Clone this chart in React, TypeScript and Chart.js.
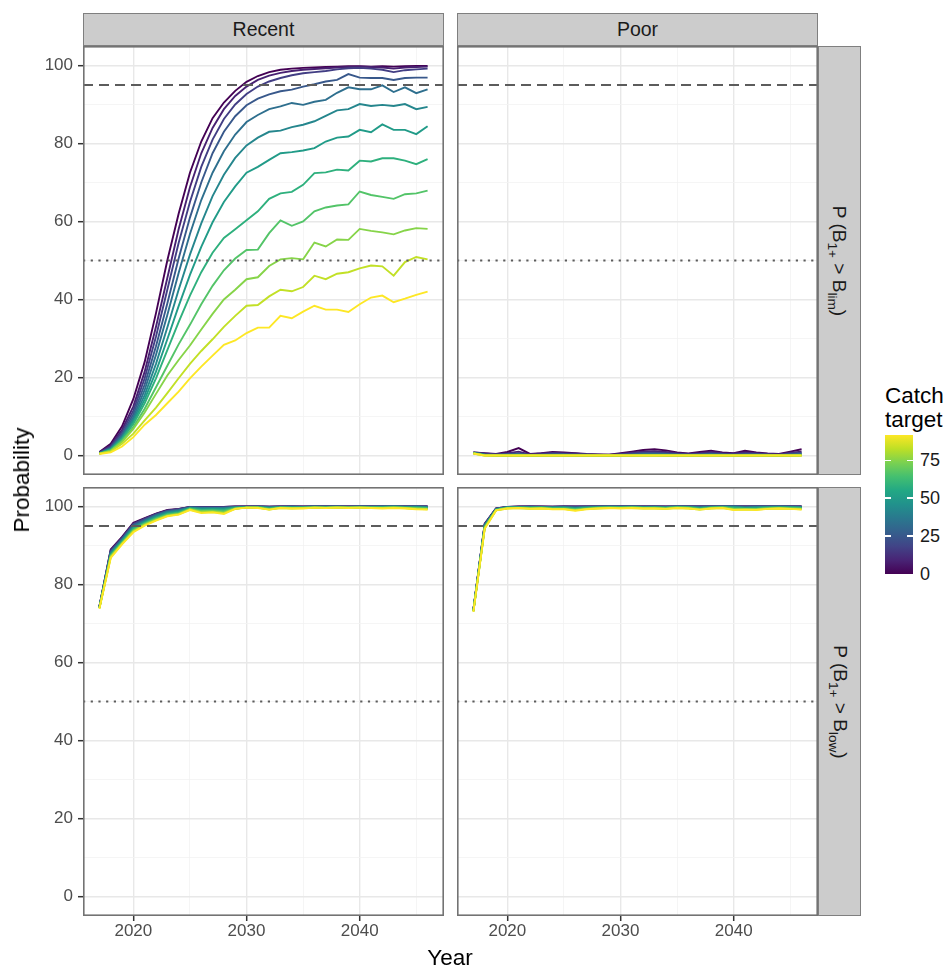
import React, { useEffect, useRef } from "react";
import { Chart, registerables } from "chart.js";

Chart.register(...registerables);

const FONT = "'Liberation Sans', Arial, Helvetica, sans-serif";

// ---------------- data ----------------
const years = [2017, 2018, 2019, 2020, 2021, 2022, 2023, 2024, 2025, 2026, 2027, 2028, 2029, 2030, 2031, 2032, 2033, 2034, 2035, 2036, 2037, 2038, 2039, 2040, 2041, 2042, 2043, 2044, 2045, 2046];
const catchTargets = [0, 8.3, 16.7, 25, 33.3, 41.7, 50, 58.3, 66.7, 75, 83.3, 91.7];
const legendMax = 91.7;
const legendTicks = [0, 25, 50, 75];
const yMajor = [0, 20, 40, 60, 80, 100];
const yMinor = [10, 30, 50, 70, 90];
const xMajor = [2020, 2030, 2040];
const xMinor = [2025, 2035, 2045];
const thresholds = [95, 50];
const columns = ["Recent", "Poor"];

// Top-left: Recent, P(B1+ > Blim)
const recentBlim = [
  [0.9, 3.0, 7.5, 14.5, 24.0, 36.5, 50.0, 62.0, 72.5, 80.5, 86.5, 90.5, 93.5, 95.8, 97.3, 98.3, 98.9, 99.2, 99.4, 99.5, 99.6, 99.7, 99.8, 99.8, 99.7, 99.8, 99.7, 99.8, 99.9, 99.9],
  [0.8, 2.6, 6.6, 12.6, 21.5, 33.0, 45.5, 58.0, 68.8, 77.5, 84.0, 88.8, 92.2, 94.6, 96.3, 97.4, 98.1, 98.6, 98.9, 99.1, 99.3, 99.5, 99.6, 99.7, 99.6, 99.5, 99.2, 99.5, 99.6, 99.7],
  [0.7, 2.3, 6.0, 11.5, 19.8, 30.5, 42.5, 54.5, 65.0, 74.0, 81.0, 86.3, 90.0, 92.7, 94.6, 95.9, 96.8, 97.5, 98.0, 98.3, 98.6, 99.0, 99.3, 99.4, 99.2, 98.9, 98.3, 98.8, 99.0, 99.2],
  [0.6, 2.0, 5.4, 10.6, 18.2, 28.0, 39.0, 50.5, 61.0, 70.0, 77.5, 83.0, 87.0, 89.8, 91.5, 92.6, 93.4, 93.8, 94.6, 95.2, 95.9, 96.3, 97.8, 96.9, 96.8, 96.8, 96.3, 96.8, 96.9, 96.9],
  [0.6, 1.8, 5.0, 9.8, 16.8, 25.8, 36.0, 46.8, 56.8, 65.5, 72.5, 78.0, 82.3, 85.5, 87.3, 88.8, 89.5, 90.4, 89.9, 90.7, 91.2, 93.0, 94.4, 93.9, 93.9, 94.9, 93.2, 94.4, 92.9, 93.9],
  [0.6, 1.7, 4.7, 9.2, 15.5, 23.5, 32.8, 42.5, 51.5, 59.5, 66.5, 72.0, 76.3, 79.5, 81.5, 83.0, 83.3, 84.2, 84.8, 85.7, 87.1, 88.5, 88.8, 90.1, 89.6, 89.9, 89.6, 90.1, 88.8, 89.4],
  [0.5, 1.6, 4.4, 8.6, 14.4, 21.5, 29.8, 38.3, 46.3, 53.5, 59.8, 65.0, 69.0, 72.5, 74.0, 75.8, 77.5, 77.8, 78.2, 78.8, 80.5, 81.5, 81.8, 83.5, 82.9, 84.9, 83.5, 83.5, 82.4, 84.4],
  [0.5, 1.5, 4.2, 8.1, 13.4, 19.8, 27.0, 34.2, 41.0, 47.0, 52.0, 55.8, 58.0, 60.3, 62.6, 65.8, 67.2, 67.6, 69.4, 72.4, 72.6, 73.3, 73.1, 75.6, 75.4, 76.2, 76.2, 75.6, 74.7, 76.0],
  [0.5, 1.3, 3.8, 7.3, 12.0, 17.5, 23.0, 28.5, 33.5, 38.8, 43.5, 47.5, 50.5, 52.7, 52.8, 57.0, 60.3, 58.9, 60.0, 62.6, 63.6, 64.1, 64.4, 67.7, 66.8, 66.3, 65.8, 67.0, 67.2, 67.9],
  [0.5, 1.2, 3.5, 6.8, 11.0, 15.8, 20.5, 24.5, 28.2, 32.3, 36.3, 40.0, 42.5, 45.2, 45.7, 48.6, 50.3, 50.6, 50.3, 54.6, 53.6, 55.4, 55.3, 58.1, 57.6, 57.2, 56.7, 57.7, 58.3, 58.1],
  [0.5, 1.0, 3.0, 5.6, 9.0, 12.3, 16.0, 19.8, 23.5, 26.8, 29.8, 33.0, 35.8, 38.4, 38.6, 40.8, 42.5, 42.1, 43.2, 46.1, 45.2, 46.6, 47.0, 48.0, 48.7, 48.5, 46.1, 49.6, 50.9, 50.3],
  [0.4, 0.8, 2.3, 4.7, 7.9, 10.4, 13.4, 16.4, 19.8, 22.8, 25.6, 28.4, 29.5, 31.4, 32.8, 32.8, 35.8, 35.2, 36.9, 38.4, 37.4, 37.4, 36.8, 38.8, 40.5, 41.0, 39.3, 40.2, 41.2, 42.0],
];

// Top-right: Poor, P(B1+ > Blim)
const poorBlim = [
  [0.8, 0.6, 0.4, 0.9, 1.9, 0.4, 0.6, 0.9, 0.8, 0.6, 0.4, 0.3, 0.2, 0.6, 1.0, 1.4, 1.6, 1.3, 0.8, 0.5, 0.9, 1.2, 0.8, 0.6, 1.2, 0.8, 0.5, 0.4, 1.0, 1.6],
  [0.8, 0.5, 0.3, 0.6, 1.0, 0.3, 0.5, 0.7, 0.6, 0.5, 0.3, 0.2, 0.2, 0.4, 0.7, 1.0, 1.1, 0.9, 0.6, 0.4, 0.6, 0.9, 0.6, 0.5, 0.8, 0.6, 0.4, 0.3, 0.7, 1.0],
  [0.7, 0.4, 0.2, 0.4, 0.6, 0.2, 0.3, 0.5, 0.4, 0.3, 0.3, 0.2, 0.1, 0.3, 0.5, 0.7, 0.8, 0.6, 0.4, 0.3, 0.4, 0.6, 0.4, 0.3, 0.5, 0.4, 0.3, 0.2, 0.5, 0.7],
  [0.7, 0.3, 0.2, 0.3, 0.4, 0.1, 0.2, 0.3, 0.3, 0.2, 0.2, 0.1, 0.1, 0.2, 0.3, 0.5, 0.5, 0.4, 0.3, 0.2, 0.3, 0.4, 0.3, 0.2, 0.3, 0.3, 0.2, 0.1, 0.3, 0.5],
  [0.7, 0.2, 0.1, 0.2, 0.3, 0.1, 0.1, 0.2, 0.2, 0.1, 0.1, 0.1, 0.0, 0.1, 0.2, 0.3, 0.3, 0.3, 0.2, 0.1, 0.2, 0.3, 0.2, 0.1, 0.2, 0.2, 0.1, 0.1, 0.2, 0.3],
  [0.6, 0.2, 0.1, 0.1, 0.2, 0.0, 0.1, 0.1, 0.1, 0.1, 0.1, 0.0, 0.0, 0.1, 0.1, 0.2, 0.2, 0.2, 0.1, 0.1, 0.1, 0.2, 0.1, 0.1, 0.1, 0.1, 0.1, 0.0, 0.1, 0.2],
  [0.6, 0.1, 0.1, 0.0, 0.1, 0.0, 0.0, 0.1, 0.1, 0.0, 0.0, 0.0, 0.0, 0.0, 0.1, 0.1, 0.1, 0.1, 0.1, 0.0, 0.1, 0.1, 0.1, 0.0, 0.1, 0.1, 0.0, 0.0, 0.1, 0.1],
  [0.6, 0.1, 0.0, 0.0, 0.1, 0.0, 0.0, 0.0, 0.0, 0.0, 0.0, 0.0, 0.0, 0.0, 0.0, 0.1, 0.1, 0.0, 0.0, 0.0, 0.0, 0.1, 0.0, 0.0, 0.0, 0.0, 0.0, 0.0, 0.0, 0.1],
  [0.6, 0.1, 0.0, 0.0, 0.0, 0.0, 0.0, 0.0, 0.0, 0.0, 0.0, 0.0, 0.0, 0.0, 0.0, 0.0, 0.0, 0.0, 0.0, 0.0, 0.0, 0.0, 0.0, 0.0, 0.0, 0.0, 0.0, 0.0, 0.0, 0.0],
  [0.5, 0.0, 0.0, 0.0, 0.0, 0.0, 0.0, 0.0, 0.0, 0.0, 0.0, 0.0, 0.0, 0.0, 0.0, 0.0, 0.0, 0.0, 0.0, 0.0, 0.0, 0.0, 0.0, 0.0, 0.0, 0.0, 0.0, 0.0, 0.0, 0.0],
  [0.5, 0.0, 0.0, 0.0, 0.0, 0.0, 0.0, 0.0, 0.0, 0.0, 0.0, 0.0, 0.0, 0.0, 0.0, 0.0, 0.0, 0.0, 0.0, 0.0, 0.0, 0.0, 0.0, 0.0, 0.0, 0.0, 0.0, 0.0, 0.0, 0.0],
  [0.5, 0.0, 0.0, 0.0, 0.0, 0.0, 0.0, 0.0, 0.0, 0.0, 0.0, 0.0, 0.0, 0.0, 0.0, 0.0, 0.0, 0.0, 0.0, 0.0, 0.0, 0.0, 0.0, 0.0, 0.0, 0.0, 0.0, 0.0, 0.0, 0.0],
];

// Bottom-left: Recent, P(B1+ > Blow)
const recentBlow = [
  [74.4, 89.0, 92.2, 95.8, 97.0, 98.2, 99.1, 99.4, 99.9, 99.9, 99.9, 99.9, 100, 100, 100, 100, 100, 100, 100, 100, 100, 100, 100, 100, 100, 100, 100, 100, 100, 100],
  [74.3, 88.8, 92.0, 95.6, 96.9, 98.1, 99.0, 99.3, 99.9, 99.9, 99.8, 99.9, 100, 100, 100, 99.9, 100, 100, 100, 100, 100, 100, 100, 100, 100, 100, 100, 100, 100, 100],
  [74.3, 88.6, 91.9, 95.5, 96.8, 98.0, 98.9, 99.3, 99.8, 99.8, 99.8, 99.8, 99.9, 100, 100, 99.9, 100, 100, 99.9, 100, 100, 100, 100, 100, 100, 100, 100, 100, 100, 100],
  [74.2, 88.4, 91.7, 95.3, 96.6, 97.9, 98.8, 99.2, 99.8, 99.7, 99.7, 99.7, 99.9, 99.9, 100, 99.9, 99.9, 100, 99.9, 100, 100, 100, 99.9, 100, 100, 100, 100, 100, 100, 99.9],
  [74.2, 88.2, 91.5, 95.0, 96.4, 97.7, 98.7, 99.0, 99.7, 99.6, 99.6, 99.6, 99.9, 99.9, 99.9, 99.8, 99.9, 99.9, 99.9, 100, 99.9, 100, 99.9, 100, 99.9, 100, 100, 99.9, 100, 99.9],
  [74.1, 88.0, 91.3, 94.8, 96.2, 97.5, 98.5, 98.9, 99.7, 99.5, 99.5, 99.5, 99.8, 99.9, 99.9, 99.7, 99.9, 99.9, 99.8, 99.9, 99.9, 99.9, 99.9, 99.9, 99.9, 99.9, 100, 99.9, 99.9, 99.8],
  [74.1, 87.8, 91.1, 94.5, 96.0, 97.3, 98.3, 98.7, 99.6, 99.3, 99.4, 99.3, 99.7, 99.8, 99.9, 99.6, 99.8, 99.8, 99.8, 99.9, 99.8, 99.9, 99.8, 99.9, 99.9, 99.9, 99.9, 99.8, 99.8, 99.7],
  [74.0, 87.6, 90.9, 94.3, 95.8, 97.1, 98.1, 98.5, 99.5, 99.1, 99.2, 99.1, 99.6, 99.8, 99.8, 99.5, 99.8, 99.7, 99.7, 99.8, 99.8, 99.8, 99.8, 99.8, 99.8, 99.8, 99.8, 99.7, 99.7, 99.6],
  [74.0, 87.4, 90.7, 94.0, 95.6, 96.9, 97.9, 98.3, 99.4, 98.9, 99.0, 98.8, 99.5, 99.7, 99.8, 99.4, 99.7, 99.6, 99.7, 99.8, 99.7, 99.8, 99.7, 99.8, 99.7, 99.7, 99.8, 99.7, 99.6, 99.5],
  [73.9, 87.2, 90.6, 93.8, 95.4, 96.7, 97.7, 98.1, 99.3, 98.7, 98.8, 98.5, 99.5, 99.7, 99.7, 99.3, 99.7, 99.6, 99.6, 99.7, 99.7, 99.8, 99.7, 99.7, 99.7, 99.6, 99.7, 99.6, 99.5, 99.4],
  [73.9, 87.0, 90.4, 93.6, 95.2, 96.5, 97.6, 98.0, 99.2, 98.5, 98.6, 98.3, 99.4, 99.7, 99.7, 99.2, 99.6, 99.5, 99.6, 99.7, 99.6, 99.7, 99.7, 99.7, 99.6, 99.6, 99.7, 99.6, 99.4, 99.3],
  [73.8, 86.8, 90.3, 93.4, 95.1, 96.4, 97.5, 97.9, 99.1, 98.3, 98.5, 98.1, 99.4, 99.7, 99.6, 99.2, 99.6, 99.5, 99.5, 99.7, 99.6, 99.7, 99.6, 99.7, 99.6, 99.5, 99.6, 99.5, 99.3, 99.2],
];

// Bottom-right: Poor, P(B1+ > Blow)
const poorBlow = [
  [73.6, 95.6, 99.5, 99.9, 100, 100, 100, 100, 100, 100, 100, 100, 100, 100, 100, 100, 100, 100, 100, 100, 100, 100, 100, 100, 100, 100, 100, 100, 100, 100],
  [73.5, 95.5, 99.5, 99.9, 100, 100, 100, 99.9, 100, 100, 100, 100, 100, 100, 100, 100, 100, 100, 100, 100, 100, 100, 100, 100, 100, 100, 100, 100, 100, 100],
  [73.5, 95.4, 99.4, 99.9, 99.9, 100, 99.9, 99.9, 100, 99.9, 100, 100, 100, 100, 100, 100, 100, 99.9, 100, 100, 100, 100, 100, 100, 100, 100, 100, 100, 100, 100],
  [73.4, 95.3, 99.4, 99.8, 99.9, 99.9, 99.9, 99.9, 99.9, 99.8, 99.9, 100, 100, 100, 100, 99.9, 100, 99.9, 100, 100, 99.9, 100, 100, 100, 99.9, 100, 100, 100, 100, 99.9],
  [73.4, 95.2, 99.3, 99.8, 99.9, 99.8, 99.9, 99.8, 99.9, 99.7, 99.9, 99.9, 100, 99.9, 100, 99.9, 99.9, 99.9, 100, 99.9, 99.8, 99.9, 100, 100, 99.8, 99.9, 99.9, 100, 99.9, 99.9],
  [73.3, 95.1, 99.3, 99.8, 99.8, 99.8, 99.8, 99.7, 99.8, 99.6, 99.8, 99.9, 99.9, 99.9, 99.9, 99.8, 99.9, 99.8, 99.9, 99.9, 99.7, 99.9, 99.9, 99.9, 99.7, 99.8, 99.9, 99.9, 99.9, 99.8],
  [73.3, 95.0, 99.2, 99.7, 99.8, 99.7, 99.8, 99.7, 99.7, 99.5, 99.7, 99.8, 99.9, 99.8, 99.9, 99.8, 99.8, 99.7, 99.9, 99.8, 99.6, 99.8, 99.9, 99.8, 99.6, 99.7, 99.8, 99.8, 99.8, 99.7],
  [73.2, 94.8, 99.2, 99.7, 99.7, 99.7, 99.7, 99.6, 99.6, 99.4, 99.6, 99.7, 99.8, 99.8, 99.8, 99.7, 99.7, 99.6, 99.8, 99.8, 99.5, 99.7, 99.8, 99.6, 99.5, 99.5, 99.7, 99.7, 99.7, 99.6],
  [73.2, 94.7, 99.1, 99.6, 99.7, 99.6, 99.7, 99.5, 99.5, 99.3, 99.5, 99.7, 99.7, 99.7, 99.8, 99.6, 99.7, 99.6, 99.8, 99.7, 99.4, 99.7, 99.8, 99.5, 99.4, 99.4, 99.6, 99.7, 99.6, 99.5],
  [73.1, 94.6, 99.1, 99.6, 99.6, 99.5, 99.6, 99.4, 99.4, 99.1, 99.4, 99.6, 99.7, 99.6, 99.7, 99.6, 99.6, 99.5, 99.7, 99.6, 99.3, 99.6, 99.7, 99.3, 99.3, 99.3, 99.5, 99.6, 99.5, 99.4],
  [73.1, 94.4, 99.0, 99.5, 99.6, 99.5, 99.5, 99.4, 99.4, 99.0, 99.4, 99.5, 99.6, 99.6, 99.6, 99.5, 99.5, 99.4, 99.6, 99.5, 99.2, 99.5, 99.6, 99.2, 99.2, 99.2, 99.4, 99.5, 99.4, 99.3],
  [73.0, 94.3, 99.0, 99.5, 99.6, 99.4, 99.5, 99.3, 99.3, 98.9, 99.3, 99.5, 99.6, 99.5, 99.6, 99.5, 99.5, 99.4, 99.6, 99.5, 99.2, 99.5, 99.6, 99.1, 99.2, 99.1, 99.4, 99.5, 99.4, 99.2],
];

// ---------------- styling helpers ----------------
const X_MIN = 2015.55;
const X_MAX = 2047.45;
const Y_MIN = -5;
const Y_MAX = 105;

const VIRIDIS = ["#440154", "#482475", "#414487", "#355F8D", "#2A788E", "#21918C", "#22A884", "#44BF70", "#7AD151", "#BDDF26", "#FDE725"];

function hexToRgb(h: string) {
  const n = parseInt(h.slice(1), 16);
  return [(n >> 16) & 255, (n >> 8) & 255, n & 255];
}
function viridis(t: number) {
  const tt = Math.max(0, Math.min(1, t));
  const p = tt * (VIRIDIS.length - 1);
  const i = Math.min(VIRIDIS.length - 2, Math.floor(p));
  const f = p - i;
  const a = hexToRgb(VIRIDIS[i]);
  const b = hexToRgb(VIRIDIS[i + 1]);
  const c = a.map((v, k) => Math.round(v + (b[k] - v) * f));
  return `rgb(${c[0]},${c[1]},${c[2]})`;
}

const GRID_MAJOR = "#E8E8E8";
const GRID_MINOR = "#F2F2F2";
const TICK_FONT = 17;

const panelBorder = {
  id: "panelBorder",
  afterDraw(chart: any) {
    const { ctx, chartArea: a } = chart;
    ctx.save();
    ctx.strokeStyle = "#737373";
    ctx.lineWidth = 1.6;
    ctx.strokeRect(a.left + 0.8, a.top + 0.8, a.right - a.left - 1.6, a.bottom - a.top - 1.6);
    ctx.restore();
  },
};

type PanelProps = {
  series: number[][];
  left: number;
  top: number;
  showY: boolean;
  showX: boolean;
};

const PW = 361;
const PH = 429;
const Y_AXIS_W = 83;
const X_AXIS_H = 50;

function Panel({ series, left, top, showY, showX }: PanelProps) {
  const ref = useRef<HTMLCanvasElement>(null);
  const cw = PW + (showY ? Y_AXIS_W : 0);
  const ch = PH + (showX ? X_AXIS_H : 0);
  const cl = left - (showY ? Y_AXIS_W : 0);

  useEffect(() => {
    const canvas = ref.current;
    if (!canvas) return;
    const datasets: any[] = series.map((vals, i) => ({
      data: vals.map((v, j) => ({ x: years[j], y: v })),
      borderColor: viridis(catchTargets[i] / legendMax),
      borderWidth: 1.9,
      pointRadius: 0,
      tension: 0,
      fill: false,
      order: series.length - i + 1,
    }));
    thresholds.forEach((t, k) => {
      datasets.push({
        data: [
          { x: X_MIN, y: t },
          { x: X_MAX, y: t },
        ],
        borderColor: "#5c5c5c",
        borderWidth: k === 0 ? 1.9 : 2,
        borderDash: k === 0 ? [10, 6] : [2.2, 5.5],
        pointRadius: 0,
        fill: false,
        order: 0,
      });
    });
    const xAll = [...xMajor, ...xMinor].sort((a, b) => a - b);
    const yAll = [...yMajor, ...yMinor].sort((a, b) => a - b);
    const isXMajor = (c: any) => c && c.tick && xMajor.includes(c.tick.value);
    const isYMajor = (c: any) => c && c.tick && yMajor.includes(c.tick.value);

    const chart = new Chart(canvas, {
      type: "line",
      data: { datasets },
      options: {
        animation: false,
        responsive: false,
        devicePixelRatio: 1,
        events: [],
        layout: { padding: 0 },
        plugins: { legend: { display: false }, tooltip: { enabled: false } },
        scales: {
          x: {
            type: "linear",
            min: X_MIN,
            max: X_MAX,
            afterBuildTicks: (s: any) => {
              s.ticks = xAll.map((v) => ({ value: v }));
            },
            afterFit: (s: any) => {
              s.height = showX ? X_AXIS_H : 0;
              s.paddingLeft = 0;
              s.paddingRight = 0;
              s.paddingTop = 0;
              s.paddingBottom = 0;
            },
            border: { display: false },
            grid: {
              color: (c: any) => (isXMajor(c) ? GRID_MAJOR : GRID_MINOR),
              lineWidth: (c: any) => (isXMajor(c) ? 1.4 : 0.8),
              drawTicks: showX,
              tickLength: 5,
              tickWidth: 1.5,
              tickColor: (c: any) => (isXMajor(c) ? "#333333" : "rgba(0,0,0,0)"),
            },
            ticks: {
              display: showX,
              autoSkip: false,
              maxRotation: 0,
              padding: 0,
              color: "#4D4D4D",
              font: { family: FONT, size: TICK_FONT },
              callback: (v: any) => (xMajor.includes(Number(v)) ? String(v) : ""),
            },
          },
          y: {
            type: "linear",
            min: Y_MIN,
            max: Y_MAX,
            afterBuildTicks: (s: any) => {
              s.ticks = yAll.map((v) => ({ value: v }));
            },
            afterFit: (s: any) => {
              s.width = showY ? Y_AXIS_W : 0;
              s.paddingLeft = 0;
              s.paddingRight = 0;
              s.paddingTop = 0;
              s.paddingBottom = 0;
            },
            border: { display: false },
            grid: {
              color: (c: any) => (isYMajor(c) ? GRID_MAJOR : GRID_MINOR),
              lineWidth: (c: any) => (isYMajor(c) ? 1.4 : 0.8),
              drawTicks: showY,
              tickLength: 5,
              tickWidth: 1.5,
              tickColor: (c: any) => (isYMajor(c) ? "#333333" : "rgba(0,0,0,0)"),
            },
            ticks: {
              display: showY,
              autoSkip: false,
              padding: 5,
              color: "#4D4D4D",
              font: { family: FONT, size: TICK_FONT },
              callback: (v: any) => (yMajor.includes(Number(v)) ? String(v) : ""),
            },
          },
        },
      } as any,
      plugins: [panelBorder],
    });
    return () => chart.destroy();
  }, []);

  return (
    <canvas
      ref={ref}
      width={cw}
      height={ch}
      style={{ position: "absolute", left: cl, top, width: cw, height: ch, display: "block" }}
    />
  );
}

const stripStyle: React.CSSProperties = {
  position: "absolute",
  background: "#CCCCCC",
  border: "1px solid #7f7f7f",
  boxSizing: "border-box",
  display: "flex",
  alignItems: "center",
  justifyContent: "center",
  color: "#1A1A1A",
  fontSize: 19.5,
  whiteSpace: "nowrap",
};

function RowLabel({ top, sub }: { top: number; sub: string }) {
  return (
    <div style={{ ...stripStyle, left: 818, top, width: 43, height: PH }}>
      <div style={{ transform: "rotate(90deg)", whiteSpace: "nowrap", fontSize: 19 }}>
        P (B<span style={{ fontSize: "0.72em", position: "relative", top: "0.35em" }}>1+</span>
        {" > "}B<span style={{ fontSize: "0.72em", position: "relative", top: "0.35em" }}>{sub}</span>)
      </div>
    </div>
  );
}

export default function App() {
  const PL = 83;
  const PR = 457;
  const PT = 46;
  const PB = 487;
  const barTop = 435;
  const barH = 139;
  const gradStops = VIRIDIS.map((c, i) => `${c} ${(i / (VIRIDIS.length - 1)) * 100}%`).join(", ");

  return (
    <div
      style={{
        position: "absolute",
        left: 0,
        top: 0,
        width: 951,
        height: 974,
        overflow: "hidden",
        background: "#ffffff",
        fontFamily: FONT,
      }}
    >
      {/* column strips */}
      {columns.map((c, i) => (
        <div key={c} style={{ ...stripStyle, left: i === 0 ? PL : PR, top: 13, width: PW, height: PT - 13 }}>
          {c}
        </div>
      ))}

      <Panel series={recentBlim} left={PL} top={PT} showY={true} showX={false} />
      <Panel series={poorBlim} left={PR} top={PT} showY={false} showX={false} />
      <Panel series={recentBlow} left={PL} top={PB} showY={true} showX={true} />
      <Panel series={poorBlow} left={PR} top={PB} showY={false} showX={true} />

      <RowLabel top={PT} sub="lim" />
      <RowLabel top={PB} sub="low" />

      {/* axis titles */}
      <div
        style={{
          position: "absolute",
          left: 22,
          top: 480,
          transform: "translate(-50%, -50%) rotate(-90deg)",
          fontSize: 22.5,
          color: "#000",
          whiteSpace: "nowrap",
        }}
      >
        Probability
      </div>
      <div
        style={{
          position: "absolute",
          left: 450,
          top: 958,
          transform: "translate(-50%, -50%)",
          fontSize: 22.5,
          color: "#000",
          whiteSpace: "nowrap",
        }}
      >
        Year
      </div>

      {/* legend */}
      <div style={{ position: "absolute", left: 885, top: 384, fontSize: 22.5, lineHeight: "23.5px", color: "#000" }}>
        Catch
        <br />
        target
      </div>
      <div
        style={{
          position: "absolute",
          left: 885,
          top: barTop,
          width: 28,
          height: barH,
          background: `linear-gradient(to top, ${gradStops})`,
        }}
      />
      {legendTicks.map((v) => {
        const y = barTop + barH - (v / legendMax) * barH;
        return (
          <React.Fragment key={v}>
            {v > 0 && (
              <>
                <div style={{ position: "absolute", left: 885, top: y - 0.75, width: 6, height: 1.5, background: "#fff" }} />
                <div style={{ position: "absolute", left: 907, top: y - 0.75, width: 6, height: 1.5, background: "#fff" }} />
              </>
            )}
            <div
              style={{
                position: "absolute",
                left: 920,
                top: y,
                transform: "translateY(-50%)",
                fontSize: 18,
                color: "#1A1A1A",
                whiteSpace: "nowrap",
              }}
            >
              {v}
            </div>
          </React.Fragment>
        );
      })}
    </div>
  );
}
